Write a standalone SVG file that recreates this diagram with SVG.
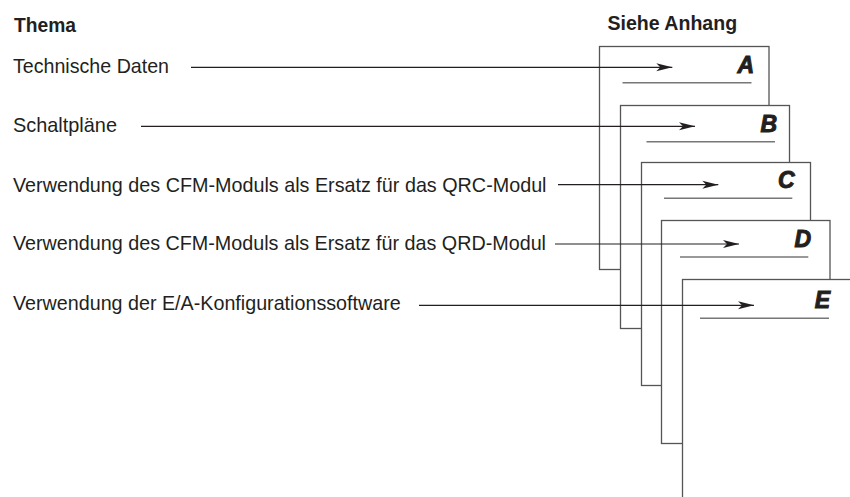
<svg xmlns="http://www.w3.org/2000/svg" width="850" height="497" viewBox="0 0 850 497">
<style>
.t{font-family:"Liberation Sans",Arial,sans-serif;font-size:19.8px;fill:#231f20}
.h{font-weight:bold}
.page{fill:#fff;stroke:#555;stroke-width:1.3}
.ul{stroke:#777;stroke-width:1.5}
.lt{font-family:"Liberation Sans",Arial,sans-serif;font-size:23px;font-weight:bold;font-style:italic;fill:#231f20;stroke:#231f20;stroke-width:1;text-anchor:end}
.c{stroke:#231f20;stroke-width:1.2;fill:none;marker-end:url(#ah)}
</style>
<defs>
<marker id="ah" markerUnits="userSpaceOnUse" markerWidth="17" markerHeight="10" refX="16" refY="4.5" orient="auto" viewBox="0 0 17 10">
<path d="M0,0.5 L16,4.5 L0,8.5 L4,4.5 z" fill="#231f20"/>
</marker>
</defs>
<text class="t h" x="14" y="32" textLength="62" lengthAdjust="spacingAndGlyphs">Thema</text>
<text class="t h" x="607.5" y="29.5" textLength="129.6" lengthAdjust="spacingAndGlyphs">Siehe Anhang</text>
<g id="pageA">
<rect class="page" x="599.5" y="46.5" width="169.5" height="223"/>
<line class="ul" x1="622.5" y1="82.7" x2="751.5" y2="82.7"/>
<text class="lt" x="754" y="73.2">A</text>
</g>
<g id="pageB">
<rect class="page" x="620.5" y="105.5" width="169" height="223"/>
<line class="ul" x1="646.5" y1="141.7" x2="775" y2="141.7"/>
<text class="lt" x="777" y="131.7">B</text>
</g>
<g id="pageC">
<rect class="page" x="641.5" y="162.5" width="169" height="223"/>
<line class="ul" x1="664" y1="198.3" x2="792.3" y2="198.3"/>
<text class="lt" x="794.5" y="187.7">C</text>
</g>
<g id="pageD">
<rect class="page" x="661.5" y="220.5" width="168.5" height="223"/>
<line class="ul" x1="680" y1="257" x2="808.3" y2="257"/>
<text class="lt" x="811" y="247.3">D</text>
</g>
<g id="pageE">
<rect class="page" x="682.5" y="279.5" width="200" height="260"/>
<line class="ul" x1="700" y1="318.3" x2="829" y2="318.3"/>
<text class="lt" x="830" y="307.7">E</text>
</g>
<g id="row1"><text class="t" x="13" y="73.3" textLength="156" lengthAdjust="spacingAndGlyphs">Technische Daten</text></g>
<g id="row2"><text class="t" x="13" y="132.3" textLength="104" lengthAdjust="spacingAndGlyphs">Schaltpläne</text></g>
<g id="row3"><text class="t" x="13" y="191.5" textLength="533.5" lengthAdjust="spacingAndGlyphs">Verwendung des CFM-Moduls als Ersatz für das QRC-Modul</text></g>
<g id="row4"><text class="t" x="13" y="250" textLength="533" lengthAdjust="spacingAndGlyphs">Verwendung des CFM-Moduls als Ersatz für das QRD-Modul</text></g>
<g id="row5"><text class="t" x="13" y="309.5" textLength="387.7" lengthAdjust="spacingAndGlyphs">Verwendung der E/A-Konfigurationssoftware</text></g>
<g id="connectors">
<line class="c" x1="191" y1="67.3" x2="672.3" y2="67.3"/>
<line class="c" x1="141" y1="126.3" x2="695" y2="126.3"/>
<line class="c" x1="558" y1="184.7" x2="718.3" y2="184.7"/>
<line class="c" x1="555" y1="244" x2="739" y2="244"/>
<line class="c" x1="419" y1="305.3" x2="754" y2="305.3"/>
</g>
</svg>
